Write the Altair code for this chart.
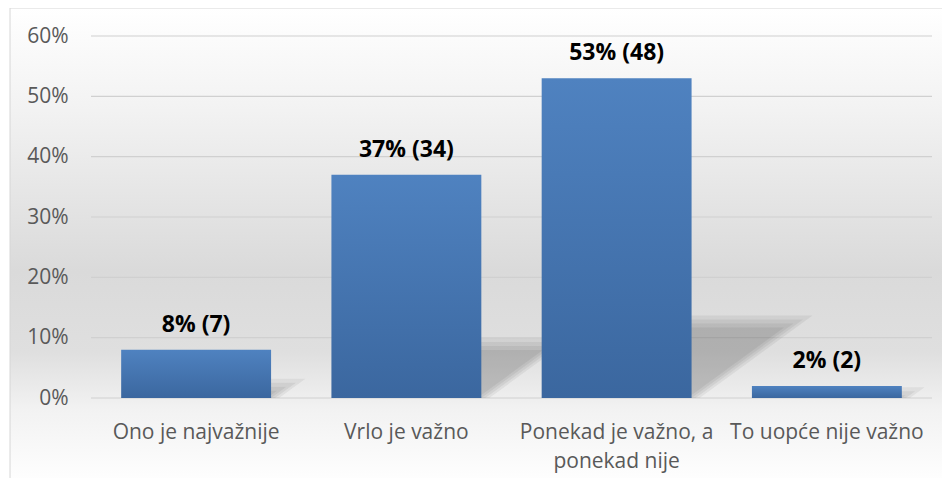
import altair as alt
import pandas as pd

categories = ["Ono je najvažnije", "Vrlo je važno", "Ponekad je važno, a\nponekad nije", "To uopće nije važno"]
percents = [8, 37, 53, 2]
counts = [7, 34, 48, 2]
y_ticks = [0, 10, 20, 30, 40, 50, 60]

df = pd.DataFrame({"kategorija": categories, "postotak": percents, "broj": counts})
df["oznaka"] = [f"{p}% ({c})" for p, c in zip(percents, counts)]
df["poredak"] = list(range(len(categories)))
grid_df = pd.DataFrame({"postotak": y_ticks})

W, H = 841, 362
PAD = {"left": 83, "top": 28, "right": 10, "bottom": 80}
STEP = W / len(categories)        # px per category
PPU = H / 60.0                    # px per percent
BAR_FRAC = 0.713
RIGHT_OFF = 0.5 + BAR_FRAC / 2    # right edge of a bar, in category units

y_scale = alt.Scale(domain=[0, 60])

# --- chart-area background (decoration) ---
bg = alt.Chart(pd.DataFrame({"a": [0]})).mark_rect(
    fill=alt.Gradient(
        gradient="linear", x1=0, x2=0, y1=0, y2=1,
        stops=[
            alt.GradientStop(offset=0, color="#ffffff"),
            alt.GradientStop(offset=0.2, color="#f3f3f3"),
            alt.GradientStop(offset=0.55, color="#dadada"),
            alt.GradientStop(offset=0.72, color="#dfdfdf"),
            alt.GradientStop(offset=0.84, color="#f2f2f2"),
            alt.GradientStop(offset=1, color="#ffffff"),
        ],
    ),
    stroke="#d6d6d6", strokeWidth=1,
).encode(
    x=alt.value(-81), x2=alt.value(W + PAD["right"] + 20),
    y=alt.value(-28), y2=alt.value(H + PAD["bottom"] + 8),
)

grid = alt.Chart(grid_df).mark_rule(color="#d0d0d0", strokeWidth=1.2).encode(
    y=alt.Y("postotak:Q", scale=y_scale),
    x=alt.value(0), x2=alt.value(W),
)

# --- soft perspective shadows behind the bars (derived from bar values) ---
SLOPE = 0.73
RATIO = 0.233
shadow_layers = []
for e in [-4, 0, 4, 8]:
    top = f"({RATIO} * datum.postotak + {e} / {PPU})"
    top_px = f"({RATIO} * datum.postotak * {PPU} + {e})"
    right = f"(datum.poredak + {RIGHT_OFF})"
    sx = (
        f"datum.k == 0 ? {right} - 20 / {STEP} : "
        f"datum.k == 1 ? {right} + {e} / {STEP} : "
        f"{right} + ({e} + max(0, {top_px}) / {SLOPE}) / {STEP}"
    )
    sy2 = f"datum.k == 2 ? max(0, {top}) : 0"
    layer = alt.Chart(df).transform_calculate(
        k="[0, 1, 2]"
    ).transform_flatten(["k"]).transform_calculate(
        sx=sx, sy=f"max(0, {top})", sy2=sy2
    ).mark_area(color="#000000", opacity=0.055, interpolate="linear").encode(
        x=alt.X("sx:Q", scale=alt.Scale(domain=[0, len(categories)], nice=False, zero=False), axis=None),
        y=alt.Y("sy:Q", scale=y_scale),
        y2=alt.Y2("sy2"),
        detail="kategorija:N",
    )
    shadow_layers.append(layer)

shadows = alt.layer(*shadow_layers)

base = alt.Chart(df).encode(
    x=alt.X(
        "kategorija:N", sort=categories,
        scale=alt.Scale(paddingInner=1 - BAR_FRAC, paddingOuter=(1 - BAR_FRAC) / 2),
        axis=alt.Axis(
            title=None, labelAngle=0, labelExpr="split(datum.label, '\\n')",
            domain=False, ticks=False, tickSize=0, labelPadding=23,
            labelFont="Open Sans", labelFontSize=21, labelColor="#595959",
            labelLineHeight=29, labelLimit=400, grid=False, zindex=1,
        ),
    ),
    y=alt.Y(
        "postotak:Q", scale=y_scale,
        axis=alt.Axis(
            title=None, values=y_ticks, labelExpr="datum.value + '%'",
            domain=False, ticks=False, tickSize=0, labelPadding=23,
            labelFont="Open Sans", labelFontSize=21, labelColor="#595959",
            grid=False, zindex=1,
        ),
    ),
)

bars = base.mark_bar(
    fill=alt.Gradient(
        gradient="linear", x1=0, x2=0, y1=0, y2=1,
        stops=[
            alt.GradientStop(offset=0, color="#4f82c0"),
            alt.GradientStop(offset=1, color="#3b679f"),
        ],
    )
)

labels = base.mark_text(
    dy=-18, baseline="alphabetic", font="Open Sans", fontWeight="bold",
    fontSize=23, color="#000000",
).encode(text="oznaka:N")

chart = alt.layer(bg, grid, shadows, alt.layer(bars, labels)).resolve_scale(
    x="independent"
).properties(
    width=W, height=H, padding=PAD,
    autosize=alt.AutoSizeParams(type="none"),
    background="white",
).configure_view(stroke=None)

chart.save("out.html", embed_options={"renderer": "svg", "actions": False})
